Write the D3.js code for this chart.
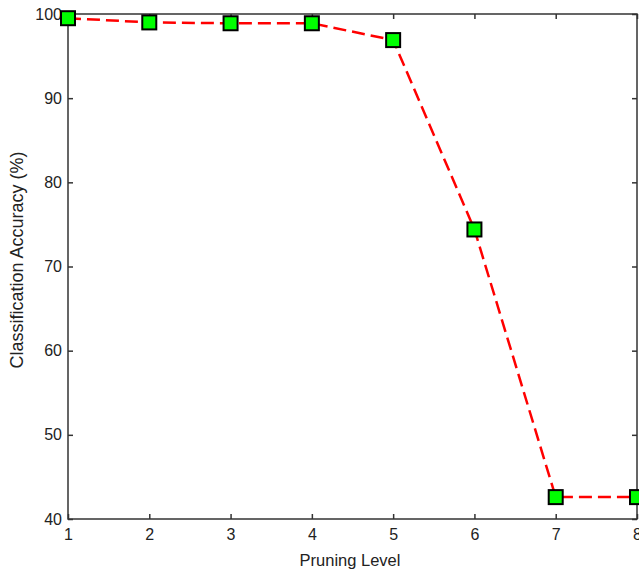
<!DOCTYPE html>
<html><head><meta charset="utf-8">
<script src="https://cdn.jsdelivr.net/npm/d3@7"></script>
<style>
body{margin:0;background:#fff;}
text{font-family:"Liberation Sans",Arial,sans-serif;fill:#222;}
</style></head>
<body><svg id="c" width="639" height="575"></svg>
<script>
const levels = [1,2,3,4,5,6,7,8];
const accuracy = [99.5,99.0,98.9,98.9,96.9,74.4,42.6,42.6];
const yTicks = [40,50,60,70,80,90,100];
const xTicks = [1,2,3,4,5,6,7,8];

const svg = d3.select("#c");
const L=68, R=637, T=14, B=519;
const x = d3.scaleLinear().domain([1,8]).range([L,R]);
const y = d3.scaleLinear().domain([40,100]).range([B,T]);

const g = svg.append("g");
g.append("rect").attr("x",L).attr("y",T).attr("width",R-L).attr("height",B-T)
 .attr("fill","none").attr("stroke","#333").attr("stroke-width",1.5);

const xb = g.append("g").attr("transform",`translate(0,${B})`)
  .call(d3.axisBottom(x).tickValues(xTicks).tickSize(-5).tickPadding(10).tickFormat(d3.format("d")));
const xt = g.append("g").attr("transform",`translate(0,${T})`)
  .call(d3.axisTop(x).tickValues(xTicks).tickSize(-5).tickFormat(""));
const yl = g.append("g").attr("transform",`translate(${L},0)`)
  .call(d3.axisLeft(y).tickValues(yTicks).tickSize(-5).tickPadding(6));
const yr = g.append("g").attr("transform",`translate(${R},0)`)
  .call(d3.axisRight(y).tickValues(yTicks).tickSize(-5).tickFormat(""));
[xb,xt,yl,yr].forEach(a=>{
  a.select(".domain").remove();
  a.selectAll(".tick line").attr("stroke","#333").attr("stroke-width",1.5);
  a.selectAll("text").attr("font-size",16).attr("fill","#222")
   .attr("font-family",'"Liberation Sans",Arial,sans-serif');
});

const line = d3.line().x((d,i)=>x(levels[i])).y(d=>y(d));
g.append("path").datum(accuracy).attr("d",line).attr("fill","none")
 .attr("stroke","#ff0000").attr("stroke-width",2.5).attr("stroke-dasharray","13,6");

const s=14;
g.selectAll("rect.m").data(accuracy).enter().append("rect").attr("class","m")
 .attr("x",(d,i)=>x(levels[i])-s/2).attr("y",d=>y(d)-s/2)
 .attr("width",s).attr("height",s).attr("fill","#00ff00")
 .attr("stroke","#000").attr("stroke-width",2);

svg.append("text").attr("x",350).attr("y",566).attr("text-anchor","middle")
 .attr("font-size",16.5).text("Pruning Level");
svg.append("text").attr("transform","translate(23,260) rotate(-90)")
 .attr("text-anchor","middle").attr("font-size",18).text("Classification Accuracy (%)");
</script></body></html>
